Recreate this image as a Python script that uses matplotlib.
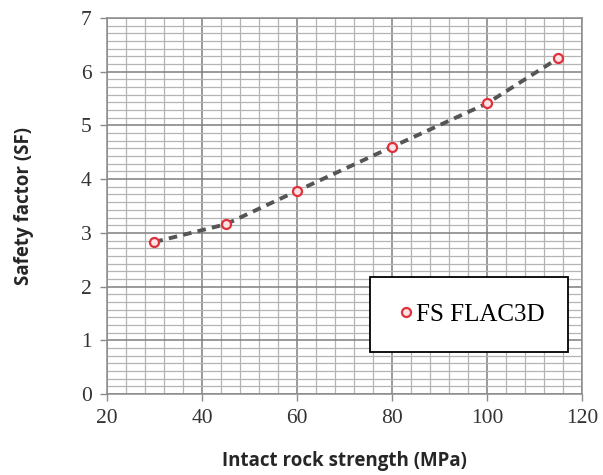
import matplotlib
matplotlib.use("Agg")
import matplotlib.pyplot as plt
from matplotlib.ticker import MultipleLocator

strength = [30, 45, 60, 80, 100, 115]
safety_factor = [2.83, 3.16, 3.78, 4.60, 5.41, 6.25]
x_ticks = [20, 40, 60, 80, 100, 120]
y_ticks = [0, 1, 2, 3, 4, 5, 6, 7]
series_label = "FS FLAC3D"
x_label = "Intact rock strength (MPa)"
y_label = "Safety factor (SF)"

fig = plt.figure(figsize=(6.03, 4.75), dpi=100)
ax = fig.add_axes([0.1774, 0.1705, 0.7877, 0.7916])

ax.set_xlim(20, 120)
ax.set_ylim(0, 7)
ax.set_xticks(x_ticks)
ax.set_yticks(y_ticks)
ax.xaxis.set_minor_locator(MultipleLocator(4))
ax.yaxis.set_minor_locator(MultipleLocator(1 / 7))
ax.grid(which="major", color="#7f7f7f", linewidth=1.1)
ax.grid(which="minor", color="#b4b4b4", linewidth=0.9)
ax.set_axisbelow(True)
ax.tick_params(which="minor", length=0)
ax.tick_params(which="major", length=5, width=1, color="#8c8c8c", direction="out",
               labelsize=15.5, labelcolor="#333333", pad=6)
for lbl in ax.get_xticklabels() + ax.get_yticklabels():
    lbl.set_family("Liberation Serif")
for s in ax.spines.values():
    s.set_color("#8c8c8c")
    s.set_linewidth(1.1)

ax.plot(strength, safety_factor, linestyle=(0, (2.2, 1.6)), color="#555555",
        linewidth=2.8, zorder=3)
ax.plot(strength, safety_factor, linestyle="none", marker="o", markersize=6.5,
        markerfacecolor="#fbe3e6", markeredgecolor="#e0303a", markeredgewidth=1.6,
        label=series_label, zorder=4)

leg = ax.legend(loc="upper left", bbox_to_anchor=(0.554, 0.311, 0.416, 0.0),
                mode="expand", frameon=True, fancybox=False, borderpad=1.05,
                handletextpad=0.0, handlelength=0.8, borderaxespad=0,
                prop={"family": "Liberation Serif", "size": 18})
leg.get_frame().set_edgecolor("black")
leg.get_frame().set_linewidth(1.3)
leg.get_frame().set_facecolor("white")
leg.get_frame().set_alpha(1)

ax.set_xlabel(x_label, fontsize=13.5, fontweight="bold", family="Open Sans",
              color="#262626", labelpad=16)
ax.set_ylabel(y_label, fontsize=13.5, fontweight="bold", family="Open Sans",
              color="#262626", labelpad=34)

fig.savefig("out.png", dpi=100)
